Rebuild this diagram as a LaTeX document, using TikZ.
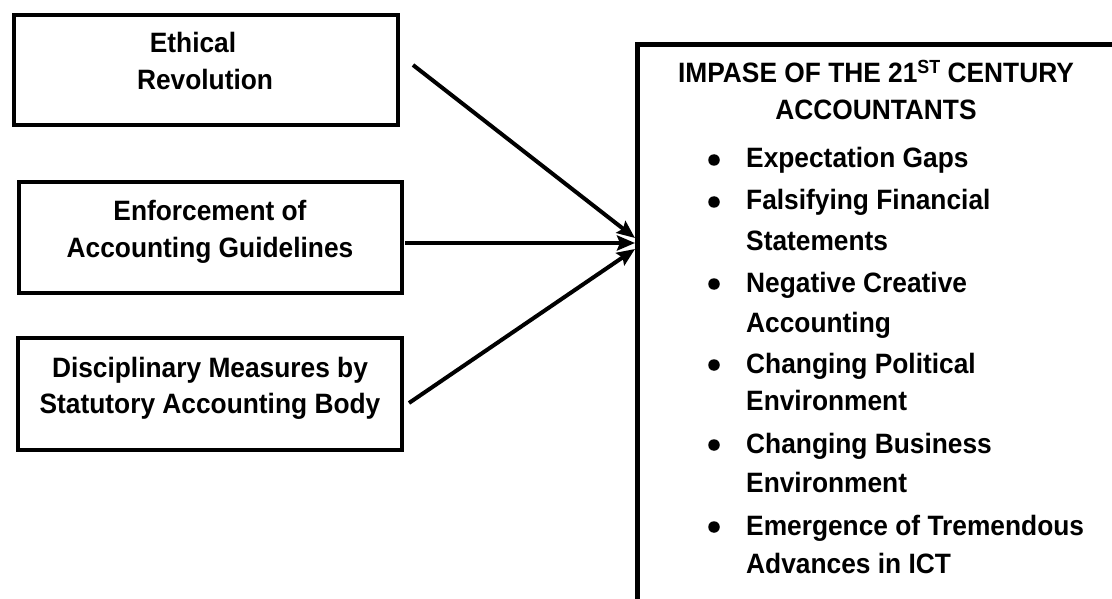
\documentclass[tikz,border=0pt]{standalone}
\usepackage{fontspec}
\setmainfont{Liberation Sans}[FakeStretch=0.94]
\usetikzlibrary{arrows.meta,calc}
\tikzset{
  box/.style={draw, line width=4pt, inner sep=0pt, outer sep=0pt, rectangle},
  bigbox/.style={draw, line width=5pt, inner sep=0pt, outer sep=0pt, rectangle, anchor=north west},
  txt/.style={font=\fontsize{28}{34}\selectfont\bfseries, inner sep=0pt, anchor=base},
  itm/.style={font=\fontsize{28}{34}\selectfont\bfseries, inner sep=0pt, anchor=base west},
  dot/.style={circle, fill=black, inner sep=0pt, minimum size=11.5pt},
  conn/.style={line width=4pt, -{Stealth[length=18pt,width=15pt,inset=3pt]}}
}
\begin{document}
\begin{tikzpicture}[x=1pt,y=-1pt]
\useasboundingbox (0,0) rectangle (1112,599);
\clip (0,0) rectangle (1112,599);
% left boxes
\node[box, minimum width=384pt, minimum height=110pt] (b1) at (206,70) {};
\node[box, minimum width=383pt, minimum height=111pt] (b2) at (210.5,237.5) {};
\node[box, minimum width=384pt, minimum height=112pt] (b3) at (210,394) {};
\node[txt] (t1a) at (193,53) {Ethical};
\node[txt] (t1b) at (205,90) {Revolution};
\node[txt] (t2a) at (210,220) {Enforcement of};
\node[txt] (t2b) at (210,258) {Accounting Guidelines};
\node[txt] (t3a) at (210,377) {Disciplinary Measures by};
\node[txt] (t3b) at (210,413) {Statutory Accounting Body};
% big box
\node[bigbox, minimum width=520pt, minimum height=600pt] (imp) at (637.5,45) {};
\node[txt] (h1) at (876,83) {IMPASE OF THE 21\raisebox{9.5pt}{\fontsize{19}{19}\selectfont ST} CENTURY};
\node[txt] (h2) at (876,120) {ACCOUNTANTS};
% bullets
\node[dot] (d1) at (714,160) {};
\node[itm] (i1) at (746,168) {Expectation Gaps};
\node[dot] (d2) at (714,202) {};
\node[itm] (i2a) at (746,210) {Falsifying Financial};
\node[itm] (i2b) at (746,250) {Statements};
\node[dot] (d3) at (714,284) {};
\node[itm] (i3a) at (746,292) {Negative Creative};
\node[itm] (i3b) at (746,332) {Accounting};
\node[dot] (d4) at (714,365) {};
\node[itm] (i4a) at (746,373) {Changing Political};
\node[itm] (i4b) at (746,410) {Environment};
\node[dot] (d5) at (714,445) {};
\node[itm] (i5a) at (746,453) {Changing Business};
\node[itm] (i5b) at (746,492) {Environment};
\node[dot] (d6) at (714,527) {};
\node[itm] (i6a) at (746,535) {Emergence of Tremendous};
\node[itm] (i6b) at (746,573) {Advances in ICT};
% connectors
\coordinate (s1) at ($(b1.east)+(15,-5)$);
\coordinate (s2) at ($(b2.east)+(3,5.5)$);
\coordinate (s3) at ($(b3.east)+(7,9)$);
\coordinate (e1) at ($(imp.north west)+(-2.5,193)$);
\coordinate (e2) at ($(imp.north west)+(-2.5,198)$);
\coordinate (e3) at ($(imp.north west)+(-2.5,204)$);
\draw[conn] (s1) -- (e1);
\draw[conn] (s2) -- (e2);
\draw[conn] (s3) -- (e3);
\end{tikzpicture}
\end{document}
